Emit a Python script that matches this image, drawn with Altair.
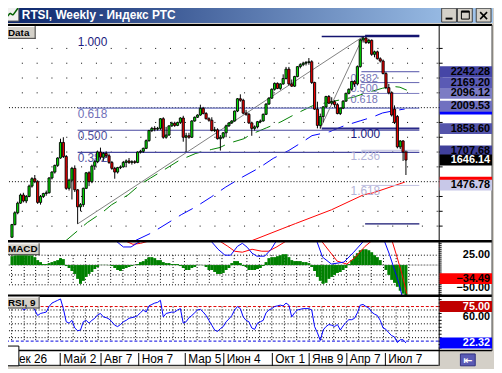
import altair as alt
import pandas as pd

# ---------------- data ----------------
opens = [
    1125, 1210, 1290, 1355, 1410, 1370, 1400, 1470, 1520, 1500,
    1360, 1400, 1420, 1425, 1525, 1565, 1610, 1660, 1765, 1670,
    1455, 1510, 1590, 1445, 1330, 1345, 1455, 1560, 1500, 1605,
    1635, 1700, 1665, 1690, 1675, 1630, 1590, 1565, 1595, 1600,
    1630, 1640, 1630, 1635, 1630, 1700, 1705, 1725, 1777, 1845,
    1860, 1855, 1860, 1925, 1800, 1815, 1877, 1895, 1880, 1900,
    1930, 1800, 1810, 1800, 1910, 1935, 1950, 1995, 1960, 1925,
    1915, 1845, 1850, 1790, 1800, 1830, 1877, 1897, 1910, 1977,
    2060, 2050, 1963, 1955, 1897, 1860, 1870, 1905, 1910, 1955,
    2024, 2064, 2124, 2164, 2130, 2160, 2197, 2260, 2160, 2145,
    2210, 2277, 2290, 2300, 2305, 2310, 2170, 1990, 1880, 1940,
    2005, 2075, 2030, 2040, 2020, 1960, 1997, 2044, 2097, 2124,
    2177, 2160, 2277, 2457, 2470, 2440, 2455, 2360, 2377, 2330,
    2315, 2230, 2135, 2100, 1990, 1940, 1735, 1775, 1700]
highs = [
    1215, 1300, 1365, 1420, 1425, 1410, 1480, 1530, 1545, 1510,
    1410, 1425, 1440, 1530, 1570, 1615, 1665, 1790, 1800, 1680,
    1520, 1600, 1610, 1450, 1355, 1460, 1565, 1570, 1615, 1645,
    1710, 1730, 1700, 1705, 1690, 1640, 1600, 1600, 1610, 1640,
    1650, 1660, 1645, 1645, 1705, 1715, 1730, 1785, 1850, 1870,
    1875, 1870, 1930, 1935, 1870, 1880, 1905, 1905, 1905, 1935,
    1945, 1830, 1830, 1915, 1940, 1955, 2020, 2005, 1970, 1935,
    1935, 1870, 1860, 1815, 1835, 1885, 1900, 1915, 1980, 2065,
    2090, 2060, 1985, 1965, 1905, 1880, 1910, 1920, 1960, 2030,
    2070, 2130, 2170, 2170, 2165, 2225, 2275, 2275, 2190, 2215,
    2280, 2300, 2310, 2315, 2335, 2320, 2175, 2040, 1960, 2010,
    2080, 2085, 2070, 2050, 2030, 2000, 2050, 2100, 2130, 2180,
    2185, 2285, 2465, 2480, 2478, 2465, 2460, 2385, 2385, 2340,
    2325, 2240, 2160, 2110, 2015, 1950, 1780, 1780, 1710]
lows = [
    1120, 1205, 1280, 1350, 1360, 1355, 1395, 1460, 1490, 1350,
    1345, 1390, 1405, 1420, 1515, 1555, 1600, 1655, 1660, 1445,
    1440, 1380, 1430, 1215, 1300, 1330, 1450, 1470, 1490, 1580,
    1625, 1650, 1640, 1660, 1620, 1580, 1520, 1555, 1585, 1595,
    1600, 1620, 1615, 1620, 1625, 1690, 1695, 1720, 1770, 1835,
    1840, 1845, 1850, 1790, 1790, 1810, 1870, 1870, 1875, 1890,
    1770, 1700, 1790, 1795, 1905, 1930, 1945, 1955, 1920, 1905,
    1840, 1835, 1785, 1710, 1790, 1800, 1870, 1890, 1905, 1970,
    2040, 1955, 1945, 1890, 1810, 1845, 1860, 1895, 1905, 1950,
    2020, 2060, 2115, 2125, 2120, 2155, 2190, 2150, 2140, 2140,
    2205, 2265, 2280, 2285, 2290, 2160, 1985, 1860, 1858.6, 1900,
    2000, 2025, 2020, 2000, 1955, 1950, 1990, 2040, 2090, 2115,
    2140, 2150, 2270, 2440, 2430, 2430, 2350, 2340, 2325, 2305,
    2225, 2125, 2090, 1940, 1890, 1725, 1720, 1640, 1545]
closes = [
    1210, 1290, 1355, 1410, 1370, 1400, 1470, 1520, 1500, 1360,
    1400, 1420, 1425, 1525, 1565, 1610, 1660, 1765, 1670, 1455,
    1510, 1590, 1445, 1330, 1345, 1455, 1560, 1500, 1605, 1635,
    1700, 1665, 1690, 1675, 1630, 1590, 1565, 1595, 1600, 1630,
    1640, 1630, 1635, 1630, 1700, 1705, 1725, 1777, 1845, 1860,
    1855, 1860, 1925, 1800, 1815, 1877, 1895, 1880, 1900, 1930,
    1800, 1810, 1800, 1910, 1935, 1950, 1995, 1960, 1925, 1915,
    1845, 1850, 1790, 1800, 1830, 1877, 1897, 1910, 1977, 2060,
    2050, 1963, 1955, 1897, 1860, 1870, 1905, 1910, 1955, 2024,
    2064, 2124, 2164, 2130, 2160, 2197, 2260, 2160, 2145, 2210,
    2277, 2290, 2300, 2305, 2310, 2170, 1990, 1880, 1940, 2005,
    2075, 2030, 2040, 2020, 1960, 1997, 2044, 2097, 2124, 2177,
    2160, 2277, 2457, 2470, 2440, 2455, 2360, 2377, 2330, 2315,
    2230, 2135, 2100, 1950, 1900, 1735, 1775, 1700, 1646.14]

macd_hist = [
    22.5, 25, 27.5, 27.5, 27.5, 27.5, 25, 25, 20, 12.5,
    7.5, 2.5, 2.5, 5, 7.5, 10, 12.5, 17.5, 15, -2.5,
    -7.5, -15, -22.5, -35, -47.5, -40, -30, -22.5, -17.5, -10,
    -5, 0.5, 0.5, 0.5, -0.5, -2.5, -7.5, -12.5, -15, -10,
    -7.5, -5, -2.5, 0.5, 2.5, 7.5, 10, 15, 20, 20,
    17.5, 12.5, 12.5, 7.5, 5, 5, 2.5, 2.5, 2.5, -2.5,
    -7.5, -12.5, -12.5, -7.5, -5, -0.5, 0.5, -0.5, -5, -12.5,
    -12.5, -17.5, -22.5, -22.5, -20, -12.5, -7.5, 5, 10, 10,
    5, -2.5, -5, -12.5, -12.5, -12.5, -10, -7.5, -2.5, 7.5,
    17.5, 20, 20, 22.5, 25, 27.5, 27.5, 20, 12.5, 10,
    10, 10, 7.5, 7.5, 5, -5, -15, -30, -40, -47.5,
    -45, -35, -30, -25, -20, -17.5, -12.5, -7.5, 2.5, 12.5,
    22.5, 30, 37.5, 40, 40, 37.5, 32.5, 25, 20, 12.5,
    0.5, -12.5, -25, -37.5, -45, -55, -65, -72.5, -77.5]

rsi_vals = [
    86, 82, 80, 78, 70, 72, 75, 76, 70, 62,
    65, 66, 67, 75, 80, 82, 84, 86, 72, 53,
    51, 55, 44, 40, 41, 53, 55, 51, 55, 58,
    63, 65, 60, 59, 57, 53, 48, 46, 49, 53,
    55, 58, 59, 60, 62, 66, 70, 67, 76, 78,
    80, 81, 84, 60, 65, 66, 67, 67, 70, 72,
    51, 53, 59, 62, 66, 70, 71, 67, 62, 55,
    48, 41, 39, 43, 46, 53, 57, 62, 70, 75,
    72, 60, 55, 53, 44, 42, 51, 53, 55, 66,
    70, 72, 75, 76, 77, 76, 80, 77, 60, 66,
    70, 71, 72, 72, 72, 70, 46, 37, 26, 41,
    46, 49, 48, 46, 49, 41, 47, 52, 56, 56,
    58, 66, 77, 78, 75, 73, 67, 64, 62, 55,
    44, 42, 37, 33, 31, 23, 27, 27, 22.32]

# moving averages (week index, value)
green_ma_i = [18.6, 26.4, 31.5, 34.9, 40.7, 45.1, 48.5, 53.6, 58.6, 64.4, 69.8, 72.9, 75.6, 81.4,
              83.4, 89.2, 94.2, 99.3, 105.1, 109.5, 114.6, 119.7, 124.8, 129.8, 133.2, 135.9, 138.3]
green_ma_v = [1077, 1224, 1290, 1344, 1411, 1484, 1524, 1584, 1644, 1691, 1717, 1731, 1757, 1791,
              1817, 1864, 1904, 1957, 2011, 2031, 2051, 2071, 2104, 2131, 2144, 2138, 2118]
blue_ma_i = [43.4, 49.2, 59.3, 64.4, 69.8, 74.9, 80.7, 86.4, 91.5, 97.0, 102.0, 105.1, 111.2,
             116.3, 122.0, 126.4, 129.8, 133.2, 137.6]
blue_ma_v = [1104, 1157, 1277, 1330, 1397, 1464, 1531, 1591, 1657, 1711, 1771, 1811, 1837,
             1877, 1911, 1937, 1964, 1977, 1991]
red_ma_i = [83.4, 94.9, 99.3, 111.9, 123.1, 126.4, 137.6]
red_ma_v = [1097, 1184, 1217, 1310, 1411, 1424, 1497]

# MACD main / signal lines (mostly beyond the panel top)
macd_i = [0, 35.0, 36.6, 39.0, 41.7, 44.1, 45.1, 46.5, 68.5, 69.8, 72.2, 74.6, 76.6, 79.0, 80.7,
          82.4, 84.1, 85.8, 88.5, 90.8, 92.5, 94.0, 105.5, 106.8, 108.8, 111.9, 116.3, 119.7,
          123.1, 124.5, 129.0, 130.5, 132.2, 133.9, 135.6, 136.6, 138.3]
macd_v = [150, 90, 60, 45.8, 45.8, 56.8, 60, 90, 90, 60, 40, 25, 25, 47.5, 55,
          45, 30, 22.5, 22.5, 40, 60, 90, 90, 60, 20, 2.5, 7.5, 32.5,
          60, 90, 90, 60, 27.5, -10, -47.5, -77.5, -110]
signal_i = [0, 38.5, 40.0, 42.4, 45.1, 47.5, 49.0, 71.5, 72.9, 75.6, 78.0, 80.7, 84.1, 87.5, 89.8,
            92.5, 95.9, 97.5, 107.0, 108.5, 111.2, 113.9, 117.3, 120.3, 123.7, 125.8, 127.0,
            131.5, 133.2, 134.9, 136.6, 138.3]
signal_v = [150, 90, 60, 52.5, 55, 60, 90, 90, 60, 47.5, 35, 32.5, 40, 35, 35,
            45, 60, 90, 90, 60, 35, 10, 2.5, 20, 47.5, 60, 90,
            90, 60, 20, -22.5, -72.5]

# Fibonacci anchors
fib1_low_i, fib1_low, fib1_high_i, fib1_high = 23, 1215, 123, 2480
fib2_low_i, fib2_low, fib2_high = 108, 1858.6, 2479.8

# x axis
tick_idx = [-1.4, 16.9, 31.2, 44.4, 60.7, 74.2, 91.2, 104.1, 117.3, 130.8]
tick_lbl = ["Дек 26", "Май 2", "Авг 7", "Ноя 7", "Мар 5", "Июн 4", "Окт 1", "Янв 9", "Апр 7", "Июл 7"]

# right-hand value tags
main_tags = [2242.28, 2169.20, 2096.12, 2009.53, 1858.60, 1707.68, 1646.14, 1476.78]
hidden_tags = [1991.00, 1497.00]
macd_tags = [25.00, -50.00, -34.49]
rsi_tags = [75.00, 60.00, 22.32]

# ---------------- layout helpers ----------------
OFF = 8
W, H = 492, 361
PPW = 2.95
I0 = 0.339
FONT = "Liberation Sans"


def px(v):
    return v - OFF


XS = alt.Scale(domain=[I0, I0 + W / PPW], nice=False, zero=False)
MAIN = ([1097, 2558], [px(242), px(23)])
MACD = ([-77.5, 60], [px(297), px(242)])
RSI = ([12.14, 90.71], [px(352), px(297)])


def X(f="i"):
    return alt.X(f"{f}:Q", scale=XS, axis=None)


def Y(f, panel, clamp=False):
    dom, rng = panel
    return alt.Y(f"{f}:Q", scale=alt.Scale(domain=dom, range=rng, nice=False, zero=False, clamp=clamp), axis=None)


one = pd.DataFrame({"k": [0]})


def rect(x1, y1, x2, y2, **kw):
    return alt.Chart(one).mark_rect(**kw).encode(
        x=alt.value(px(x1)), x2=alt.value(px(x2)), y=alt.value(px(y1)), y2=alt.value(px(y2)))


def seg(x1, y1, x2, y2, color="black", width=1, dash=None):
    kw = dict(color=color, strokeWidth=width)
    if dash:
        kw["strokeDash"] = dash
    return alt.Chart(one).mark_rule(**kw).encode(
        x=alt.value(px(x1)), x2=alt.value(px(x2)), y=alt.value(px(y1)), y2=alt.value(px(y2)))


def label(x, y, s, size=11, color="black", bold=False, align="left", font=FONT):
    return alt.Chart(one).mark_text(text=s, fontSize=size, color=color, font=font,
                                    fontWeight="bold" if bold else "normal", align=align,
                                    baseline="alphabetic").encode(x=alt.value(px(x)), y=alt.value(px(y)))


def hrules(values, panel, x1, x2, color="black", dash=None, offset=0, width=1):
    kw = dict(color=color, strokeWidth=width)
    if dash:
        kw["strokeDash"] = dash
        kw["strokeDashOffset"] = offset
    return alt.Chart(pd.DataFrame({"v": values})).mark_rule(**kw).encode(
        y=Y("v", panel), x=alt.value(px(x1)), x2=alt.value(px(x2)))


def tag(val, panel, fill, tcolor, show_text=True, dy=0):
    df = pd.DataFrame({"v": [val]})
    out = []
    if fill:
        out.append(alt.Chart(df).mark_rect(fill=fill, yOffset=-5.5, y2Offset=5.5).encode(
            y=Y("v", panel), y2="v:Q", x=alt.value(px(445)), x2=alt.value(px(498))))
    if show_text:
        out.append(alt.Chart(df).mark_text(align="right", baseline="middle", fontSize=11, font=FONT,
                                           fontWeight="bold", color=tcolor, dy=dy).encode(
            y=Y("v", panel), x=alt.value(px(496)), text=alt.Text("v:Q", format=".2f")))
    return out


layers = []

# ---------------- window chrome ----------------
grad = alt.Gradient(gradient="linear",
                    stops=[alt.GradientStop(color="#0a246a", offset=0),
                           alt.GradientStop(color="#a6caf0", offset=1)],
                    x1=0, x2=1, y1=0, y2=0)
layers.append(rect(3, 3, 499, 21, fill=grad))
layers.append(rect(4, 4, 19, 19, fill="#f0f0f0", stroke="#505050", strokeWidth=1))
layers += [seg(6, 16, 10, 11, "#006000", 1.5), seg(10, 11, 13, 13, "#006000", 1.5), seg(13, 13, 18, 6, "#006000", 1.5)]
layers.append(label(22, 17, "RTSI, Weekly - Индекс РТС", size=12, color="white", bold=True))
for bx in (447, 463, 482):
    layers.append(rect(bx, 6, bx + 15, 20, fill="#d4d0c8", stroke="#404040", strokeWidth=1))
layers.append(seg(451, 16.5, 458, 16.5, "black", 2))
layers.append(rect(467, 9, 475, 17, fill="#d4d0c8", stroke="black", strokeWidth=1))
layers.append(seg(467, 9.5, 475, 9.5, "black", 2))
layers += [seg(486, 10, 493, 17, "black", 1.6), seg(493, 10, 486, 17, "black", 1.6)]

# white plotting surface
layers.append(rect(5, 23, 498, 352, fill="white"))
layers.append(rect(5, 353, 444, 368, fill="white"))

# ---------------- grids ----------------
layers.append(hrules([1200, 1300, 1400, 1600, 1700, 1800, 1900, 2100, 2200, 2300, 2400], MAIN, 8, 444,
                     dash=[1, 14], offset=1))
layers.append(hrules([1500, 2000], MAIN, 6, 444, dash=[1, 2]))

months = pd.date_range("2006-01-01", "2008-09-01", freq="MS")
month_idx = pd.DataFrame({"i": [(d - pd.Timestamp("2006-01-02")).days / 7 for d in months]})
layers.append(hrules([25, 0, -25, -50], MACD, 6, 444, dash=[1, 2]))
layers.append(alt.Chart(month_idx).mark_rule(color="black", strokeDash=[1, 2]).encode(
    x=X(), y=alt.value(px(256)), y2=alt.value(px(286))))
layers.append(hrules([0], MACD, 6, 444, color="#c8c8c8"))
layers.append(hrules([70, 60, 50, 40, 30], RSI, 6, 444, dash=[1, 2]))
layers.append(alt.Chart(month_idx).mark_rule(color="black", strokeDash=[1, 2]).encode(
    x=X(), y=alt.value(px(308)), y2=alt.value(px(343))))
layers.append(hrules([75], RSI, 6, 444, color="#e00000", dash=[3, 2]))
layers.append(hrules([25], RSI, 6, 444, color="#0000e0", dash=[3, 2]))

# ---------------- moving averages ----------------
for xi, yv, col, dash in ((green_ma_i, green_ma_v, "#008000", [16, 9]),
                          (blue_ma_i, blue_ma_v, "#0000ff", [16, 9]),
                          (red_ma_i, red_ma_v, "#ff0000", None)):
    kw = dict(color=col, strokeWidth=1)
    if dash:
        kw["strokeDash"] = dash
    layers.append(alt.Chart(pd.DataFrame({"i": xi, "v": yv})).mark_line(**kw).encode(
        x=X(), y=Y("v", MAIN, clamp=True)))

# ---------------- fibonacci ----------------
anch = pd.DataFrame({"i": [fib1_low_i, fib1_high_i, fib2_low_i, fib1_high_i],
                     "v": [fib1_low, fib1_high, fib2_low, fib2_high], "g": ["a", "a", "b", "b"]})
layers.append(alt.Chart(anch).mark_line(color="#808080", strokeWidth=1).encode(
    x=X(), y=Y("v", MAIN), detail="g:N"))

END_I = 142.7


def fib_line(v, i0, color, width=1):
    df = pd.DataFrame({"i": [i0], "i1": [END_I], "v": [v]})
    return alt.Chart(df).mark_rule(color=color, strokeWidth=width).encode(
        x=X(), x2="i1:Q", y=Y("v", MAIN))


def fib_text(i, v, s, color, size=12):
    df = pd.DataFrame({"i": [i], "v": [v]})
    return alt.Chart(df).mark_text(text=s, align="left", baseline="top", dy=1, fontSize=size,
                                   font=FONT, color=color).encode(x=X(), y=Y("v", MAIN))


rng1 = fib1_high - fib1_low
for lvl, col in ((0.382, "#4848a0"), (0.5, "#4848a0"), (0.618, "#6c74c0")):
    layers.append(fib_line(fib1_low + lvl * rng1, fib1_low_i, col, 1.2))
for lvl, s, col in ((1.0, "1.000", "#1c1c80"), (0.618, "0.618", "#7272b8"),
                    (0.5, "0.500", "#5050a0"), (0.382, "0.382", "#5050a0")):
    layers.append(fib_text(fib1_low_i, fib1_low + lvl * rng1, s, col))

rng2 = fib2_high - fib2_low
fib2_style = {0.382: "#5050a8", 0.5: "#6464b0", 0.618: "#7c7cc0", 1.0: "#282888", 1.236: "#c0c0e0", 1.618: "#c0c0e0"}
fib2_tcol = {0.382: "#7676b8", 0.5: "#7676b8", 0.618: "#7676b8", 1.0: "#1c1c80", 1.236: "#b4b4d8", 1.618: "#b4b4d8"}
for lvl in (0.382, 0.5, 0.618, 1.0, 1.236, 1.618):
    v = fib2_high - lvl * rng2
    start = fib2_low_i + 0.5 if lvl == 1.0 else 122.4
    layers.append(fib_line(v, start, fib2_style[lvl], 2 if lvl == 1.0 else 1))
    layers.append(fib_text(118.6, v, f"{lvl:.3f}", fib2_tcol[lvl], size=11 if lvl < 1 else 12))
layers.append(fib_line(fib2_high, fib2_low_i + 0.5, "#141470", 1.5))
layers.append(fib_line(fib1_high + 8, 123.7, "#141470", 1.5))
layers.append(fib_line(fib1_low, 123.7, "#141470", 1.5))

# ---------------- candles ----------------
cdf = pd.DataFrame({"i": list(range(len(closes))), "o": opens, "h": highs, "l": lows, "c": closes})
layers.append(alt.Chart(cdf).mark_rule(color="black", strokeWidth=1).encode(
    x=X(), y=Y("l", MAIN), y2="h:Q"))
layers.append(alt.Chart(cdf).mark_bar(size=2.2, stroke="black", strokeWidth=0.9).encode(
    x=X(), y=Y("o", MAIN), y2="c:Q",
    fill=alt.condition("datum.c >= datum.o", alt.value("#00e000"), alt.value("#f00000"))))

# ---------------- MACD ----------------
hdf = pd.DataFrame({"i": list(range(len(macd_hist))), "h": macd_hist, "z": 0})
layers.append(alt.Chart(hdf).mark_bar(size=3, color="#008000").encode(
    x=X(), y=Y("h", MACD), y2="z:Q"))
layers.append(alt.Chart(pd.DataFrame({"i": signal_i, "v": signal_v})).mark_line(color="#ff0000", strokeWidth=1).encode(
    x=X(), y=Y("v", MACD, clamp=True)))
layers.append(alt.Chart(pd.DataFrame({"i": macd_i, "v": macd_v})).mark_line(color="#0000ff", strokeWidth=1).encode(
    x=X(), y=Y("v", MACD, clamp=True)))

# ---------------- RSI ----------------
rdf = pd.DataFrame({"i": list(range(len(rsi_vals))), "r": rsi_vals})
layers.append(alt.Chart(rdf).mark_line(color="#0000ff", strokeWidth=1).encode(x=X(), y=Y("r", RSI)))

# ---------------- frame lines ----------------
layers.append(seg(5, 23, 498, 23, "black", 2))
layers.append(seg(5, 242, 498, 242, "black", 2.5))
layers.append(seg(5, 297, 498, 297, "black", 2.5))
layers.append(seg(5, 352.5, 498, 352.5, "black", 1.5))
layers.append(seg(5, 367.5, 444, 367.5, "black", 1))
layers.append(seg(444.5, 23, 444.5, 368, "black", 1))
layers.append(seg(498, 23, 498, 353, "#404040", 1))

# right axis ticks
layers.append(alt.Chart(pd.DataFrame({"v": [1200, 1300, 1400, 1500, 1600, 1700, 1800, 1900, 2000, 2100, 2200, 2300, 2400]}))
              .mark_rule(color="black").encode(y=Y("v", MAIN), x=alt.value(px(444)), x2=alt.value(px(448))))
layers.append(alt.Chart(pd.DataFrame({"v": list(range(-75, 60, 5))})).mark_rule(color="black").encode(
    y=Y("v", MACD), x=alt.value(px(444)), x2=alt.value(px(447))))
layers.append(alt.Chart(pd.DataFrame({"v": list(range(15, 91, 5))})).mark_rule(color="black").encode(
    y=Y("v", RSI), x=alt.value(px(444)), x2=alt.value(px(447))))

# value tags (the two partly hidden ones show only their coloured strip)
layers += tag(hidden_tags[0], MAIN, "#0000ff", "white", show_text=False)
layers += tag(hidden_tags[1], MAIN, "#ff0000", "white", show_text=False)
main_fill = ["#4646a6", "#5a5ab4", "#7c7cc4", "#7070c0", "#5454aa", "#40409a", "#000000", "#c8c8e8"]
main_txt = ["black", "black", "black", "black", "black", "black", "white", "black"]
for v, f, t in zip(main_tags, main_fill, main_txt):
    layers += tag(v, MAIN, f, t)
layers += tag(macd_tags[0], MACD, None, "black")
layers += tag(macd_tags[1], MACD, None, "black", dy=3)
layers += tag(macd_tags[2], MACD, "#ff0000", "black")
layers += tag(rsi_tags[0], RSI, "#c00000", "white")
layers += tag(rsi_tags[1], RSI, None, "black")
layers += tag(rsi_tags[2], RSI, "#0000ff", "white")


# panel name boxes
def panel_box(x1, y1, x2, y2, s):
    return [rect(x1, y1, x2, y2, fill="#d4d0c8"),
            seg(x1, y1 + 0.5, x2, y1 + 0.5, "white", 1), seg(x1 + 0.5, y1, x1 + 0.5, y2, "white", 1),
            seg(x1, y2 - 0.5, x2, y2 - 0.5, "#404040", 1), seg(x2 - 0.5, y1, x2 - 0.5, y2, "#404040", 1),
            label(x1 + 2, y2 - 3, s, size=10, bold=True)]


layers += panel_box(6, 24, 36, 37, "Data")
layers += panel_box(6, 244, 40, 256, "MACD")
layers += panel_box(6, 298, 40, 310, "RSI, 9")

# ---------------- x axis labels ----------------
tdf = pd.DataFrame({"i": tick_idx, "t": tick_lbl})
layers.append(alt.Chart(tdf).mark_rule(color="black").encode(
    x=X(), y=alt.value(px(355)), y2=alt.value(px(368))))
layers.append(alt.Chart(tdf).mark_text(align="left", baseline="alphabetic", dx=3, fontSize=12, font=FONT,
                                       color="black").encode(x=X(), y=alt.value(px(365)), text="t:N"))
layers.append(rect(6, 348, 19, 368, fill="white", stroke="black", strokeWidth=1))
layers.append(rect(466, 356, 481, 368, fill="#5a5ab4", stroke="#303080", strokeWidth=1))
layers.append(label(473.5, 366, "⇤", size=11, color="white", bold=True, align="center", font="DejaVu Sans"))

chart = (alt.layer(*layers)
         .resolve_scale(y="independent")
         .properties(width=W, height=H, padding=0, autosize=alt.AutoSizeParams(type="none"),
                     background="#d4d0c8")
         .configure_view(stroke=None))

chart.save("out.html", embed_options={"renderer": "svg", "actions": False})
